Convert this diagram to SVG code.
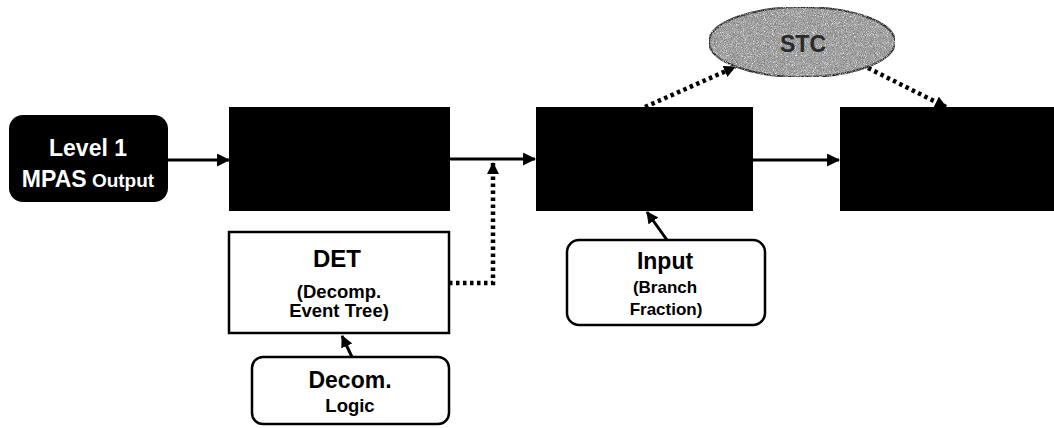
<svg xmlns="http://www.w3.org/2000/svg" width="1054" height="428" viewBox="0 0 1054 428">
<style>
  text { font-family: "Liberation Sans", Arial, sans-serif; font-weight: bold; text-anchor: middle; }
  .blk { fill: #000; }
  .wbox { fill: #fff; stroke: #000; stroke-width: 2.5; }
  .conn { fill: none; stroke: #000; stroke-width: 3; }
  .dot { fill: none; stroke: #000; stroke-width: 4.5; stroke-dasharray: 3.5 3.5; }
  .wt { fill: #fff; }
  .bt { fill: #000; }
</style>
<defs>
  <marker id="ah" viewBox="0 0 12 12" refX="11" refY="6" markerWidth="13" markerHeight="13" markerUnits="userSpaceOnUse" orient="auto">
    <path d="M0,0 L12,6 L0,12 z" fill="#000"/>
  </marker>
  <marker id="ahs" viewBox="0 0 12 12" refX="11" refY="6" markerWidth="12" markerHeight="12" markerUnits="userSpaceOnUse" orient="auto">
    <path d="M0,0 L12,6 L0,12 z" fill="#000"/>
  </marker>
  <filter id="grain" x="0" y="0" width="100%" height="100%">
    <feTurbulence type="fractalNoise" baseFrequency="1.1" numOctaves="2" seed="4" result="n"/>
    <feColorMatrix in="n" type="matrix" values="0 0 0 0 0.2  0 0 0 0 0.2  0 0 0 0 0.2  3 0 0 0 -1.2" result="d"/>
    <feColorMatrix in="n" type="matrix" values="0 0 0 0 0.95  0 0 0 0 0.95  0 0 0 0 0.95  0 -3 0 0 1.3" result="l"/>
    <feComposite in="d" in2="SourceGraphic" operator="in" result="dm"/>
    <feComposite in="l" in2="SourceGraphic" operator="in" result="lm"/>
    <feMerge><feMergeNode in="SourceGraphic"/><feMergeNode in="dm"/><feMergeNode in="lm"/></feMerge>
  </filter>
</defs>

<g id="connectors">
  <line class="conn" x1="168" y1="160" x2="229" y2="160" marker-end="url(#ah)"/>
  <line class="conn" x1="450" y1="159" x2="535" y2="159" marker-end="url(#ah)"/>
  <line class="conn" x1="753" y1="160" x2="839" y2="160" marker-end="url(#ah)"/>
  <polyline class="dot" points="449,283 493,283 493,163" marker-end="url(#ahs)"/>
  <line class="conn" x1="352" y1="357" x2="342" y2="336" marker-end="url(#ahs)"/>
  <line class="conn" x1="667" y1="240" x2="647" y2="212" marker-end="url(#ahs)"/>
  <line class="dot" x1="645" y1="107" x2="735" y2="67" marker-end="url(#ahs)"/>
  <line class="dot" x1="868" y1="68" x2="946" y2="107" marker-end="url(#ahs)"/>
</g>

<g id="level1">
  <rect x="9" y="115" width="159" height="87" rx="14" class="blk"/>
  <text x="88" y="156" font-size="23" class="wt">Level 1</text>
  <text x="88" y="187" class="wt"><tspan font-size="23">MPAS</tspan><tspan font-size="19"> Output</tspan></text>
</g>

<g id="box1">
  <rect x="229" y="107" width="221" height="104" class="blk"/>
</g>

<g id="box2">
  <rect x="536" y="107" width="217" height="104" class="blk"/>
</g>

<g id="box3">
  <rect x="840" y="107" width="216" height="104" class="blk"/>
</g>

<g id="stc">
  <ellipse cx="802" cy="42" rx="93" ry="35" fill="#a9a9a9" stroke="#222" stroke-width="2" filter="url(#grain)"/>
  <text x="803" y="52" font-size="23" fill="#2a2a2a">STC</text>
</g>

<g id="det">
  <rect x="229" y="232" width="220" height="101" class="wbox"/>
  <text x="337" y="267" font-size="24" class="bt">DET</text>
  <text x="339" y="298" font-size="18.5" class="bt">(Decomp.</text>
  <text x="339" y="317" font-size="18.5" class="bt">Event Tree)</text>
</g>

<g id="decom">
  <rect x="252" y="357" width="197" height="67" rx="11" class="wbox"/>
  <text x="350" y="388" font-size="23" class="bt">Decom.</text>
  <text x="350" y="412" font-size="18.5" class="bt">Logic</text>
</g>

<g id="input">
  <rect x="567" y="240" width="198" height="85" rx="12" class="wbox"/>
  <text x="665" y="269" font-size="23" class="bt">Input</text>
  <text x="665" y="293" font-size="17" class="bt">(Branch</text>
  <text x="666" y="315" font-size="17" class="bt">Fraction)</text>
</g>
</svg>
